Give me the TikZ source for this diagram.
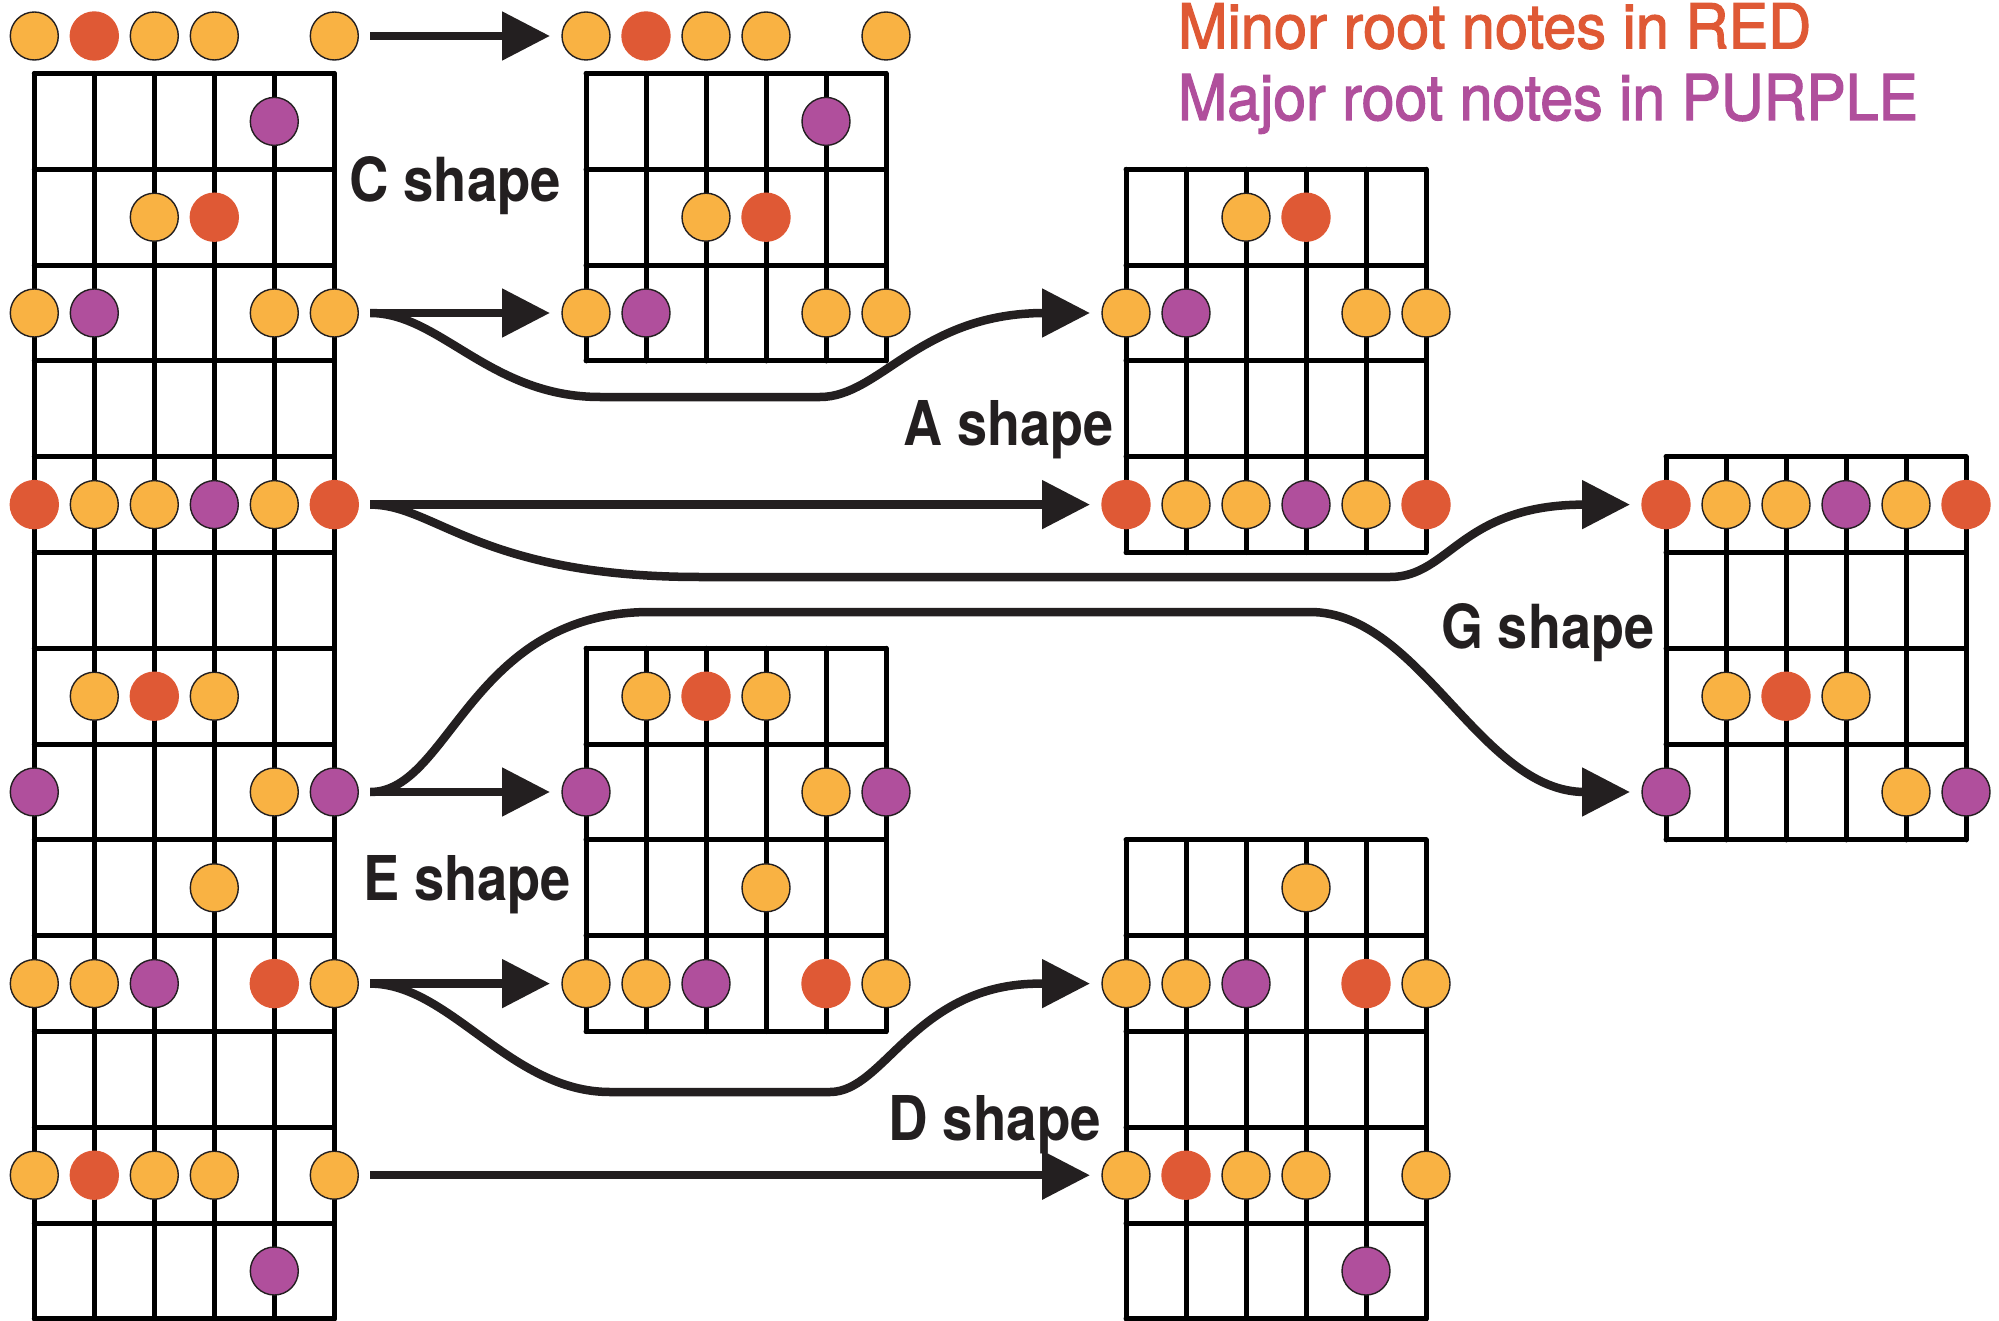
\documentclass[tikz,border=0pt]{standalone}
\usepackage{fontspec}
\setmainfont{TeX Gyre Heros}
\newfontfamily\legendfont[FakeBold=2]{TeX Gyre Heros}
\usepackage{graphicx}
\usetikzlibrary{arrows.meta}
\definecolor{ink}{HTML}{231F20}
\definecolor{fillO}{HTML}{F9B243}
\definecolor{fillR}{HTML}{DF5935}
\definecolor{fillP}{HTML}{B04F9C}
\expandafter\def\csname row0\endcsname{0/O,1/R,2/O,3/O,5/O}
\expandafter\def\csname row1\endcsname{4/P}
\expandafter\def\csname row2\endcsname{2/O,3/R}
\expandafter\def\csname row3\endcsname{0/O,1/P,4/O,5/O}
\expandafter\def\csname row5\endcsname{0/R,1/O,2/O,3/P,4/O,5/R}
\expandafter\def\csname row7\endcsname{1/O,2/R,3/O}
\expandafter\def\csname row8\endcsname{0/P,4/O,5/P}
\expandafter\def\csname row9\endcsname{3/O}
\expandafter\def\csname row10\endcsname{0/O,1/O,2/P,4/R,5/O}
\expandafter\def\csname row12\endcsname{0/O,1/R,2/O,3/O,5/O}
\expandafter\def\csname row13\endcsname{4/P}
% #1 x of first string, #2 first fret line, #3 last fret line
\newcommand\fretboard[3]{%
  \foreach \s in {0,...,5}{\draw[fretline] ({#1+60*\s},{73.5+95.8*#2}) -- ({#1+60*\s},{73.5+95.8*#3});}%
  \foreach \k in {#2,...,#3}{\draw[fretline] (#1,{73.5+95.8*\k}) -- ({#1+300},{73.5+95.8*\k});}%
}
% #1 board name, #2 x of first string, #3 list of rows
\newcommand\noterows[3]{%
  \foreach \k in {#3}{%
    \pgfmathsetmacro\yy{\k==0 ? 36 : 73.5+95.8*(\k-0.5)}%
    \expandafter\let\expandafter\currow\csname row\k\endcsname
    \foreach \s/\c in \currow {%
      \pgfmathsetmacro\xx{#2+60*\s}%
      \edef\tmp{\noexpand\node[note\c] (#1-\k-\s) at (\xx,\yy) {};}\tmp}%
  }}
\begin{document}
\begin{tikzpicture}[x=1pt,y=-1pt,
  fretline/.style={line width=5pt, line cap=round, draw=black},
  notebase/.style={circle, minimum size=48pt, inner sep=0pt, outer sep=0pt, line width=1.4pt},
  noteO/.style={notebase, fill=fillO, draw=ink},
  noteP/.style={notebase, fill=fillP, draw=ink},
  noteR/.style={notebase, fill=fillR, draw=fillR},
  conn/.style={draw=ink, line width=8.5pt, -{Triangle[length=48pt,width=47pt]}},
  shapelbl/.style={inner sep=0pt, outer sep=0pt, text=ink, anchor=base west},
  legend/.style={inner sep=0pt, outer sep=0pt, anchor=base west}]
\useasboundingbox (0,0) rectangle (1999,1321);
\fill[white] (0,0) rectangle (1999,1321);
% fretboards
\fretboard{34.3}{0}{13}
\fretboard{586}{0}{3}
\fretboard{1126}{1}{5}
\fretboard{1666}{4}{8}
\fretboard{586}{6}{10}
\fretboard{1126}{8}{13}
% notes
\noterows{L}{34.3}{0,1,2,3,5,7,8,9,10,12,13}
\noterows{C}{586}{0,1,2,3}
\noterows{A}{1126}{2,3,5}
\noterows{G}{1666}{5,7,8}
\noterows{E}{586}{7,8,9,10}
\noterows{D}{1126}{9,10,12,13}
% straight connectors
\draw[conn] ([xshift=12pt]L-0-5.east) -- ([xshift=-12pt]C-0-0.west);
\draw[conn] ([xshift=12pt]L-3-5.east) -- ([xshift=-12pt]C-3-0.west);
\draw[conn] ([xshift=12pt]L-5-5.east) -- ([xshift=-12pt]A-5-0.west);
\draw[conn] ([xshift=12pt]L-8-5.east) -- ([xshift=-12pt]E-8-0.west);
\draw[conn] ([xshift=12pt]L-10-5.east) -- ([xshift=-12pt]E-10-0.west);
\draw[conn] ([xshift=12pt]L-12-5.east) -- ([xshift=-12pt]D-12-0.west);
% curved connectors
\draw[conn] ([xshift=12pt]L-3-5.east) .. controls (440,313) and (490,397) .. (600,397) -- (820,397)
  .. controls (880,397) and (920,313) .. (1045,313) -- ([xshift=-12pt]A-3-0.west);
\draw[conn] ([xshift=12pt]L-5-5.east) .. controls (435,504.6) and (480,577) .. (700,577) -- (1390,577)
  .. controls (1450,577) and (1460,504.6) .. (1585,504.6) -- ([xshift=-12pt]G-5-0.west);
\draw[conn] ([xshift=12pt]L-8-5.east) .. controls (450,792) and (470,612) .. (650,612) -- (1310,612)
  .. controls (1420,612) and (1480,792) .. (1585,792) -- ([xshift=-12pt]G-8-0.west);
\draw[conn] ([xshift=12pt]L-10-5.east) .. controls (450,983.6) and (510,1092) .. (610,1092) -- (830,1092)
  .. controls (885,1092) and (915,983.6) .. (1040,983.6) -- ([xshift=-12pt]D-10-0.west);
% labels
\node[shapelbl] (lblC) at (349,202) {\resizebox{212pt}{45pt}{\bfseries C shape}};
\node[shapelbl] (lblA) at (903,445) {\resizebox{210pt}{45pt}{\bfseries A shape}};
\node[shapelbl] (lblG) at (1441,648) {\resizebox{213pt}{45pt}{\bfseries G shape}};
\node[shapelbl] (lblE) at (363,900) {\resizebox{208pt}{45pt}{\bfseries E shape}};
\node[shapelbl] (lblD) at (888,1140) {\resizebox{213pt}{45pt}{\bfseries D shape}};
\node[legend, text=fillR] (legminor) at (1178,48.3) {\resizebox{633pt}{45pt}{\legendfont Minor root notes in RED}};
\node[legend, text=fillP] (legmajor) at (1178,120) {\resizebox{740pt}{46pt}{\legendfont Major root notes in PURPLE}};
\end{tikzpicture}
\end{document}
